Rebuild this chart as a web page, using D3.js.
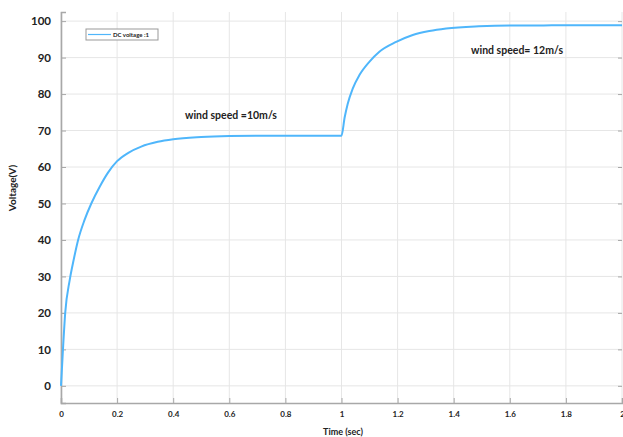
<!DOCTYPE html>
<html>
<head>
<meta charset="utf-8" />
<script src="https://d3js.org/d3.v7.min.js"></script>
<style>
  body { margin: 0; background: #fff; }
  text { font-family: Lato, "Open Sans", sans-serif; font-weight: 700; fill: #222; }
</style>
</head>
<body>
<div id="visu"></div>
<script>
// Dimensions
const largeur = 623;
const hauteur = 437;
const marge = {haut: 12, droite: 1, bas: 34, gauche: 61};

// Data: time (sec) and DC voltage (V)
const temps = [0, 0.007, 0.015, 0.031, 0.045, 0.061, 0.084, 0.108, 0.138, 0.167, 0.2, 0.24, 0.286, 0.345, 0.4, 0.5, 0.6, 0.7, 0.8, 0.9, 0.998,
               1.0, 1.011, 1.022, 1.04, 1.064, 1.1, 1.135, 1.195, 1.254, 1.313, 1.373, 1.49, 1.6, 1.7, 1.8, 1.9, 2.0];
const tension = [0, 10, 20, 29, 34.5, 40, 45.5, 50, 54.6, 58.4, 61.6, 63.9, 65.6, 66.9, 67.6, 68.2, 68.5, 68.6, 68.6, 68.6, 68.6,
                 68.6, 73.5, 77.3, 81.5, 85.2, 88.9, 91.6, 94.3, 96.2, 97.3, 98.0, 98.6, 98.8, 98.8, 98.9, 98.9, 98.9];
const ticksX = [0, 0.2, 0.4, 0.6, 0.8, 1, 1.2, 1.4, 1.6, 1.8, 2];
const ticksY = [0, 10, 20, 30, 40, 50, 60, 70, 80, 90, 100];
const annotations = [
  {t: 0.606, v: 73.2, texte: "wind speed =10m/s"},
  {t: 1.626, v: 91, texte: "wind speed= 12m/s"}
];

const svg = d3.select('#visu').append('svg')
  .attr('width', largeur)
  .attr('height', hauteur);

// Echelles
const x = d3.scaleLinear().domain([0, 2]).range([marge.gauche, largeur - marge.droite]);
const y = d3.scaleLinear().domain([-4.7, 102.5]).range([hauteur - marge.bas, marge.haut]);

// Grille
svg.append('g').selectAll('line').data(ticksX).enter().append('line')
  .attr('x1', d => x(d)).attr('x2', d => x(d))
  .attr('y1', y.range()[1]).attr('y2', y.range()[0])
  .attr('stroke', '#e6e6e6').attr('stroke-width', 1);
svg.append('g').selectAll('line').data(ticksY).enter().append('line')
  .attr('x1', x.range()[0]).attr('x2', x.range()[1])
  .attr('y1', d => y(d)).attr('y2', d => y(d))
  .attr('stroke', '#e6e6e6').attr('stroke-width', 1);

// Axes
const axeX = d3.axisBottom(x).tickValues(ticksX).tickSize(-5).tickPadding(10).tickFormat(d3.format('~g'));
const axeY = d3.axisLeft(y).tickValues(ticksY).tickSize(-5).tickPadding(10);

const gx = svg.append('g')
  .attr('transform', `translate(0, ${y.range()[0]})`)
  .call(axeX);
gx.selectAll('text').style('font-size', '8px').attr('dy', '0.5em');

const gy = svg.append('g')
  .attr('transform', `translate(${marge.gauche}, 0)`)
  .call(axeY);
gy.selectAll('text').style('font-size', '11.5px');

// Ticks à droite
const axeDroite = d3.axisRight(y).tickValues(ticksY).tickSize(-4).tickFormat('');
svg.append('g')
  .attr('transform', `translate(${x.range()[1]}, 0)`)
  .call(axeDroite)
  .call(g => g.select('.domain').remove());

svg.selectAll('.domain').attr('stroke', '#a8a8a8').attr('stroke-width', 1.6);
svg.selectAll('.tick line').attr('stroke', '#a8a8a8');

// Titres des axes
svg.append('text')
  .attr('x', 343).attr('y', 435)
  .attr('text-anchor', 'middle')
  .style('font-size', '9px')
  .text('Time (sec)');
svg.append('text')
  .attr('transform', 'translate(16, 188) rotate(-90)')
  .attr('text-anchor', 'middle')
  .style('font-size', '10px')
  .text('Voltage(V)');

// Courbe
const points = temps.map((t, i) => ({t: t, v: tension[i]}));
const ligneGen = d3.line()
  .x(d => x(d.t))
  .y(d => y(d.v))
  .curve(d3.curveMonotoneX);
svg.append('path')
  .datum(points)
  .attr('d', ligneGen)
  .attr('fill', 'none')
  .attr('stroke', '#4fb6fb')
  .attr('stroke-width', 2);

// Annotations
svg.append('g').selectAll('text').data(annotations).enter().append('text')
  .attr('x', d => x(d.t))
  .attr('y', d => y(d.v))
  .attr('text-anchor', 'middle')
  .style('font-size', '10.5px')
  .text(d => d.texte);

// Légende
const legende = svg.append('g').attr('transform', 'translate(86, 29)');
legende.append('rect')
  .attr('width', 72).attr('height', 11)
  .attr('fill', '#fff').attr('stroke', '#999').attr('stroke-width', 1);
legende.append('line')
  .attr('x1', 2).attr('x2', 25).attr('y1', 5.5).attr('y2', 5.5)
  .attr('stroke', '#4fb6fb').attr('stroke-width', 1.2);
legende.append('text')
  .attr('x', 27).attr('y', 7.8)
  .style('font-size', '6px')
  .text('DC voltage :1');
</script>
</body>
</html>
